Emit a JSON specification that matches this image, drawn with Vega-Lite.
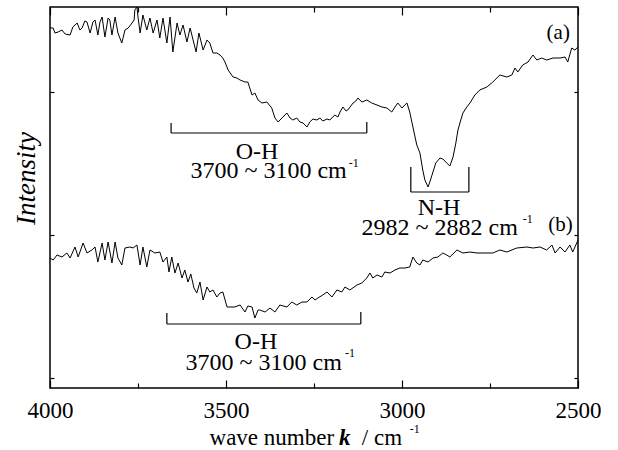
{
  "$schema": "https://vega.github.io/schema/vega-lite/v6.json",
  "width": 528,
  "height": 381,
  "autosize": {"type": "none"},
  "padding": {"left": 50, "top": 7, "right": 40, "bottom": 62},
  "background": "white",
  "config": {
    "view": {"stroke": "black", "strokeWidth": 1.5},
    "font": "Times New Roman, Liberation Serif, serif",
    "axis": {"domain": false, "grid": false, "tickColor": "black", "tickWidth": 1.2, "labelColor": "black", "titleColor": "black", "labelFont": "Times New Roman, Liberation Serif, serif", "titleFont": "Times New Roman, Liberation Serif, serif"},
    "text": {"font": "Times New Roman, Liberation Serif, serif", "color": "black"}
  },
  "resolve": {"axis": {"x": "independent", "y": "independent"}},
  "datasets": {
    "a": [
      {"k":4000,"v":350},{"k":3991,"v":350},{"k":3986,"v":345},{"k":3977,"v":346},{"k":3966,"v":348},{"k":3957,"v":344},{"k":3943,"v":343},{"k":3935,"v":351},{"k":3923,"v":355},{"k":3915,"v":348},{"k":3909,"v":350},{"k":3901,"v":357},{"k":3895,"v":356},{"k":3886,"v":345},{"k":3878,"v":356},{"k":3872,"v":358},{"k":3864,"v":343},{"k":3858,"v":356},{"k":3852,"v":361},{"k":3844,"v":341},{"k":3835,"v":360},{"k":3830,"v":358},{"k":3824,"v":343},{"k":3815,"v":361},{"k":3807,"v":345},{"k":3796,"v":335},{"k":3787,"v":348},{"k":3778,"v":350},{"k":3767,"v":355},{"k":3761,"v":358},{"k":3759,"v":368},{"k":3753,"v":371},{"k":3750,"v":361},{"k":3744,"v":345},{"k":3736,"v":363},{"k":3725,"v":348},{"k":3716,"v":360},{"k":3707,"v":345},{"k":3696,"v":358},{"k":3688,"v":340},{"k":3679,"v":360},{"k":3668,"v":335},{"k":3659,"v":361},{"k":3651,"v":326},{"k":3639,"v":355},{"k":3631,"v":343},{"k":3622,"v":353},{"k":3611,"v":336},{"k":3602,"v":350},{"k":3585,"v":326},{"k":3577,"v":345},{"k":3565,"v":328},{"k":3554,"v":338},{"k":3546,"v":335},{"k":3537,"v":325},{"k":3526,"v":325},{"k":3517,"v":323},{"k":3509,"v":320},{"k":3503,"v":316},{"k":3494,"v":308},{"k":3480,"v":301},{"k":3469,"v":300},{"k":3460,"v":298},{"k":3446,"v":296},{"k":3438,"v":296},{"k":3426,"v":283},{"k":3418,"v":285},{"k":3409,"v":278},{"k":3398,"v":275},{"k":3384,"v":276},{"k":3370,"v":270},{"k":3361,"v":260},{"k":3352,"v":256},{"k":3341,"v":260},{"k":3327,"v":265},{"k":3318,"v":260},{"k":3310,"v":258},{"k":3299,"v":260},{"k":3290,"v":256},{"k":3281,"v":255},{"k":3270,"v":251},{"k":3262,"v":256},{"k":3253,"v":259},{"k":3242,"v":258},{"k":3233,"v":260},{"k":3225,"v":257},{"k":3213,"v":259},{"k":3205,"v":258},{"k":3191,"v":263},{"k":3182,"v":261},{"k":3176,"v":266},{"k":3168,"v":271},{"k":3159,"v":267},{"k":3154,"v":268},{"k":3139,"v":275},{"k":3131,"v":277},{"k":3125,"v":280},{"k":3114,"v":276},{"k":3100,"v":278},{"k":3086,"v":275},{"k":3071,"v":273},{"k":3057,"v":271},{"k":3043,"v":270},{"k":3029,"v":266},{"k":3020,"v":271},{"k":3012,"v":275},{"k":3000,"v":270},{"k":2992,"v":273},{"k":2986,"v":275},{"k":2978,"v":266},{"k":2969,"v":251},{"k":2958,"v":233},{"k":2949,"v":225},{"k":2941,"v":208},{"k":2935,"v":198},{"k":2926,"v":191},{"k":2921,"v":196},{"k":2912,"v":206},{"k":2904,"v":215},{"k":2892,"v":220},{"k":2884,"v":219},{"k":2873,"v":215},{"k":2864,"v":212},{"k":2855,"v":221},{"k":2847,"v":235},{"k":2841,"v":248},{"k":2833,"v":258},{"k":2827,"v":265},{"k":2816,"v":271},{"k":2807,"v":275},{"k":2793,"v":283},{"k":2779,"v":288},{"k":2759,"v":291},{"k":2742,"v":296},{"k":2722,"v":303},{"k":2702,"v":301},{"k":2688,"v":303},{"k":2679,"v":310},{"k":2671,"v":306},{"k":2657,"v":313},{"k":2642,"v":316},{"k":2628,"v":323},{"k":2617,"v":318},{"k":2603,"v":320},{"k":2589,"v":318},{"k":2571,"v":320},{"k":2551,"v":320},{"k":2537,"v":321},{"k":2529,"v":316},{"k":2518,"v":330},{"k":2509,"v":328},{"k":2500,"v":331}
    ],
    "b": [
      {"k":4000,"v":120},{"k":3991,"v":118},{"k":3980,"v":123},{"k":3966,"v":121},{"k":3952,"v":125},{"k":3943,"v":120},{"k":3929,"v":131},{"k":3920,"v":121},{"k":3906,"v":135},{"k":3895,"v":125},{"k":3881,"v":128},{"k":3872,"v":131},{"k":3864,"v":116},{"k":3852,"v":135},{"k":3844,"v":118},{"k":3835,"v":136},{"k":3824,"v":115},{"k":3815,"v":136},{"k":3807,"v":120},{"k":3796,"v":113},{"k":3787,"v":130},{"k":3773,"v":131},{"k":3764,"v":130},{"k":3753,"v":133},{"k":3744,"v":113},{"k":3736,"v":131},{"k":3725,"v":111},{"k":3716,"v":128},{"k":3702,"v":125},{"k":3688,"v":126},{"k":3679,"v":116},{"k":3668,"v":121},{"k":3662,"v":106},{"k":3654,"v":121},{"k":3645,"v":105},{"k":3636,"v":115},{"k":3625,"v":100},{"k":3617,"v":108},{"k":3608,"v":96},{"k":3600,"v":104},{"k":3591,"v":90},{"k":3583,"v":85},{"k":3574,"v":96},{"k":3565,"v":78},{"k":3554,"v":91},{"k":3546,"v":86},{"k":3537,"v":88},{"k":3526,"v":81},{"k":3517,"v":85},{"k":3509,"v":86},{"k":3497,"v":71},{"k":3489,"v":71},{"k":3475,"v":71},{"k":3460,"v":73},{"k":3446,"v":66},{"k":3438,"v":72},{"k":3426,"v":71},{"k":3418,"v":60},{"k":3409,"v":68},{"k":3404,"v":68},{"k":3389,"v":66},{"k":3375,"v":70},{"k":3361,"v":66},{"k":3347,"v":73},{"k":3327,"v":71},{"k":3313,"v":76},{"k":3299,"v":73},{"k":3284,"v":76},{"k":3270,"v":76},{"k":3256,"v":81},{"k":3247,"v":78},{"k":3239,"v":80},{"k":3225,"v":83},{"k":3213,"v":86},{"k":3199,"v":81},{"k":3185,"v":88},{"k":3171,"v":86},{"k":3162,"v":91},{"k":3148,"v":88},{"k":3128,"v":93},{"k":3114,"v":95},{"k":3100,"v":100},{"k":3091,"v":105},{"k":3083,"v":100},{"k":3071,"v":103},{"k":3057,"v":101},{"k":3049,"v":106},{"k":3034,"v":105},{"k":3020,"v":108},{"k":3006,"v":110},{"k":2992,"v":110},{"k":2978,"v":111},{"k":2969,"v":121},{"k":2958,"v":115},{"k":2949,"v":113},{"k":2941,"v":118},{"k":2926,"v":116},{"k":2912,"v":120},{"k":2898,"v":121},{"k":2884,"v":125},{"k":2873,"v":123},{"k":2864,"v":121},{"k":2844,"v":128},{"k":2827,"v":125},{"k":2807,"v":126},{"k":2787,"v":125},{"k":2770,"v":125},{"k":2742,"v":125},{"k":2722,"v":128},{"k":2702,"v":126},{"k":2674,"v":130},{"k":2645,"v":131},{"k":2628,"v":130},{"k":2608,"v":131},{"k":2589,"v":128},{"k":2574,"v":133},{"k":2565,"v":125},{"k":2551,"v":131},{"k":2537,"v":126},{"k":2523,"v":133},{"k":2515,"v":126},{"k":2500,"v":138}
    ],
    "brackets": [
      {"k1":3656,"k2":3100,"v1":245,"v2":245},{"k1":3656,"k2":3656,"v1":245,"v2":255},{"k1":3100,"k2":3100,"v1":245,"v2":256},
      {"k1":2975,"k2":2810,"v1":186,"v2":186},{"k1":2975,"k2":2975,"v1":186,"v2":211},{"k1":2810,"k2":2810,"v1":186,"v2":211},
      {"k1":3668,"k2":3117,"v1":54,"v2":54},{"k1":3668,"k2":3668,"v1":54,"v2":65},{"k1":3117,"k2":3117,"v1":54,"v2":66}
    ]
  },
  "layer": [
    {
      "data": {"name": "a"},
      "mark": {"type": "line", "color": "black", "strokeWidth": 1},
      "encoding": {
        "x": {"field": "k", "type": "quantitative", "scale": {"domain": [2500, 4000], "reverse": true, "nice": false, "zero": false},
          "axis": {"orient": "bottom", "values": [4000, 3750, 3500, 3250, 3000, 2750, 2500], "tickSize": {"condition": {"test": "datum.value % 500 === 0", "value": -8}, "value": -5}, "labelExpr": "datum.value % 500 === 0 ? datum.value + '' : ''", "labelFontSize": 23, "labelPadding": 19, "labelBaseline": "top", "labelFlush": false, "labelOverlap": false, "title": null}},
        "y": {"field": "v", "type": "quantitative", "scale": {"domain": [-10, 371], "nice": false, "zero": false},
          "axis": {"orient": "left", "values": [0, 143, 286], "tickSize": -4, "labels": false, "title": "Intensity", "titleFontSize": 27, "titleFontStyle": "italic", "titleFontWeight": "normal", "titleAngle": -90, "titleX": -24, "titleY": 171, "titleAlign": "center", "titleBaseline": "middle"}}
      }
    },
    {
      "data": {"name": "b"},
      "mark": {"type": "line", "color": "black", "strokeWidth": 1},
      "encoding": {
        "x": {"field": "k", "type": "quantitative", "scale": {"domain": [2500, 4000], "reverse": true, "nice": false, "zero": false}, "axis": null},
        "y": {"field": "v", "type": "quantitative", "scale": {"domain": [-10, 371], "nice": false, "zero": false}, "axis": null}
      }
    },
    {
      "data": {"name": "brackets"},
      "mark": {"type": "rule", "color": "black", "strokeWidth": 1.2},
      "encoding": {
        "x": {"field": "k1", "type": "quantitative", "scale": {"domain": [2500, 4000], "reverse": true, "nice": false, "zero": false},
          "axis": {"orient": "top", "values": [4000, 3750, 3500, 3250, 3000, 2750, 2500], "tickSize": {"condition": {"test": "datum.value % 500 === 0", "value": -8}, "value": -5}, "labels": false, "title": null}},
        "x2": {"field": "k2"},
        "y": {"field": "v1", "type": "quantitative", "scale": {"domain": [-10, 371], "nice": false, "zero": false},
          "axis": {"orient": "right", "values": [0, 143, 286], "tickSize": -4, "labels": false, "title": null}},
        "y2": {"field": "v2"}
      }
    },
    {
      "data": {"values": [{"k": 3412, "v": 219, "t": "O-H"}, {"k": 3415, "v": 29, "t": "O-H"}, {"k": 2895, "v": 163, "t": "N-H"}]},
      "mark": {"type": "text", "fontSize": 24, "align": "center", "baseline": "alphabetic"},
      "encoding": {
        "x": {"field": "k", "type": "quantitative", "axis": null},
        "y": {"field": "v", "type": "quantitative", "axis": null},
        "text": {"field": "t"}
      }
    },
    {
      "data": {"values": [{"k": 3157, "v": 200, "t": "3700 ~ 3100 cm"}, {"k": 2671, "v": 143, "t": "2982 ~ 2882 cm"}, {"k": 3171, "v": 8, "t": "3700 ~ 3100 cm"}]},
      "mark": {"type": "text", "fontSize": 24, "align": "right", "baseline": "alphabetic"},
      "encoding": {
        "x": {"field": "k", "type": "quantitative", "axis": null},
        "y": {"field": "v", "type": "quantitative", "axis": null},
        "text": {"field": "t"}
      }
    },
    {
      "data": {"values": [{"k": 3151, "v": 211, "t": "-1"}, {"k": 2657, "v": 155, "t": "-1"}, {"k": 3162, "v": 21, "t": "-1"}, {"k": 2978, "v": -55, "t": "-1"}]},
      "mark": {"type": "text", "fontSize": 12, "align": "left", "baseline": "alphabetic"},
      "encoding": {
        "x": {"field": "k", "type": "quantitative", "axis": null},
        "y": {"field": "v", "type": "quantitative", "axis": null},
        "text": {"field": "t"}
      }
    },
    {
      "data": {"values": [{"k": 2523, "v": 339, "t": "(a)"}, {"k": 2515, "v": 147, "t": "(b)"}]},
      "mark": {"type": "text", "fontSize": 21, "align": "right", "baseline": "alphabetic"},
      "encoding": {
        "x": {"field": "k", "type": "quantitative", "axis": null},
        "y": {"field": "v", "type": "quantitative", "axis": null},
        "text": {"field": "t"}
      }
    },
    {
      "data": {"values": [{"k": 3193, "v": -67, "t": "wave number"}]},
      "mark": {"type": "text", "fontSize": 23, "align": "right", "baseline": "alphabetic"},
      "encoding": {
        "x": {"field": "k", "type": "quantitative", "axis": null},
        "y": {"field": "v", "type": "quantitative", "axis": null},
        "text": {"field": "t"}
      }
    },
    {
      "data": {"values": [{"k": 3179, "v": -67, "t": "k"}]},
      "mark": {"type": "text", "fontSize": 23, "align": "left", "baseline": "alphabetic", "fontWeight": "bold", "fontStyle": "italic"},
      "encoding": {
        "x": {"field": "k", "type": "quantitative", "axis": null},
        "y": {"field": "v", "type": "quantitative", "axis": null},
        "text": {"field": "t"}
      }
    },
    {
      "data": {"values": [{"k": 3114, "v": -67, "t": "/ cm"}]},
      "mark": {"type": "text", "fontSize": 23, "align": "left", "baseline": "alphabetic"},
      "encoding": {
        "x": {"field": "k", "type": "quantitative", "axis": null},
        "y": {"field": "v", "type": "quantitative", "axis": null},
        "text": {"field": "t"}
      }
    }
  ]
}
